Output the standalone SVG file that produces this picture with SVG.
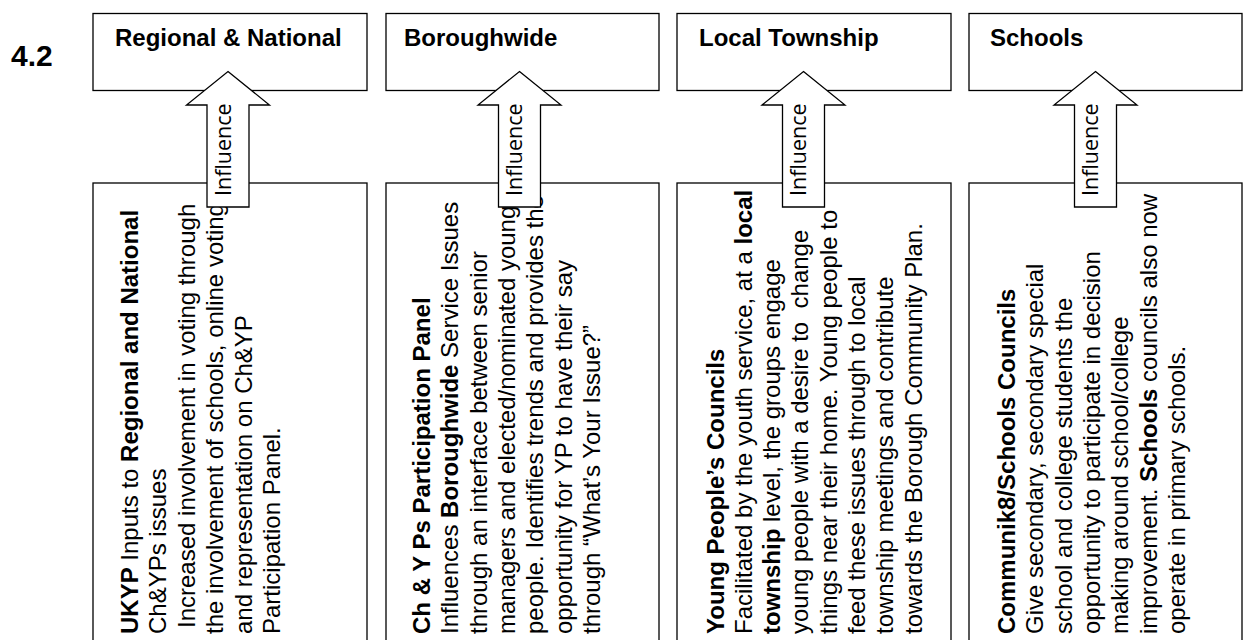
<svg xmlns="http://www.w3.org/2000/svg" width="1245" height="640" viewBox="0 0 1245 640">
<style>
.box{fill:#fff;stroke:#000;stroke-width:1.3}
.arrow{fill:#fff;stroke:#000;stroke-width:1.3;stroke-linejoin:miter}
.title{font-family:"Liberation Sans",Arial,sans-serif;font-size:24px;font-weight:bold;fill:#000}
.t{font-family:"Liberation Sans",Arial,sans-serif;font-size:24px;fill:#000}
.b{font-weight:bold}
.inf{font-family:"Open Sans","DejaVu Sans",sans-serif;font-size:21.5px;fill:#000}
</style>
<rect width="1245" height="640" fill="#fff"/>
<text id="section" class="title" x="11" y="66" style="font-size:30px">4.2</text>

<g id="top-regional"><rect class="box" x="93" y="13.5" width="274" height="77"/><text class="title" x="115" y="46">Regional &amp; National</text></g>
<g id="top-borough"><rect class="box" x="386" y="13.5" width="273" height="77"/><text class="title" x="404" y="46">Boroughwide</text></g>
<g id="top-township"><rect class="box" x="677" y="13.5" width="274" height="77"/><text class="title" x="699" y="46">Local Township</text></g>
<g id="top-schools"><rect class="box" x="969" y="13.5" width="273" height="77"/><text class="title" x="990" y="46">Schools</text></g>

<g id="ukyp"><rect class="box" x="93" y="183" width="274" height="470"/>
<g transform="translate(0 634) rotate(-90)" class="t">
<text x="0" y="137.5"><tspan class="b">UKYP</tspan> Inputs to <tspan class="b">Regional and National</tspan></text>
<text x="0" y="166">Ch&amp;YPs issues</text>
<text x="6" y="194.5">Increased involvement in voting through</text>
<text x="0" y="223">the involvement of schools, online voting</text>
<text x="0" y="251.5">and representation on Ch&amp;YP</text>
<text x="0" y="280">Participation Panel.</text>
</g></g>

<g id="panel"><rect class="box" x="386" y="183" width="273" height="470"/>
<g transform="translate(0 634) rotate(-90)" class="t">
<text x="0" y="430" class="b">Ch &amp; Y Ps Participation Panel</text>
<text x="0" y="458.3">Influences <tspan class="b">Boroughwide</tspan> Service Issues</text>
<text x="0" y="486.6">through an interface between senior</text>
<text x="0" y="514.9">managers and elected/nominated young</text>
<text x="0" y="543.2">people. Identifies trends and provides the</text>
<text x="0" y="571.5">opportunity for YP to have their say</text>
<text x="0" y="599.8">through “What’s Your Issue?”</text>
</g></g>

<g id="councils"><rect class="box" x="677" y="183" width="274" height="470"/>
<g transform="translate(0 634) rotate(-90)" class="t">
<text x="0" y="723.5" class="b">Young People’s Councils</text>
<text x="0" y="751.8">Facilitated by the youth service, at a <tspan class="b">local</tspan></text>
<text x="0" y="780.1"><tspan class="b">township</tspan> level, the groups engage</text>
<text x="0" y="808.4" xml:space="preserve">young people with a desire to  change</text>
<text x="0" y="836.7">things near their home. Young people to</text>
<text x="0" y="865">feed these issues through to local</text>
<text x="0" y="893.3">township meetings and contribute</text>
<text x="0" y="921.6">towards the Borough Community Plan.</text>
</g></g>

<g id="schools"><rect class="box" x="969" y="183" width="273" height="470"/>
<g transform="translate(0 634) rotate(-90)" class="t">
<text x="0" y="1015" class="b">Communik8/Schools Councils</text>
<text x="0" y="1043.3">Give secondary, secondary special</text>
<text x="0" y="1071.6">school and college students the</text>
<text x="0" y="1099.9">opportunity to participate in decision</text>
<text x="0" y="1128.2">making around school/college</text>
<text x="0" y="1156.5">improvement. <tspan class="b">Schools</tspan> councils also now</text>
<text x="0" y="1184.8">operate in primary schools.</text>
</g></g>

<g id="connectors">
<g id="arrow-1"><path class="arrow" d="M228 71.5 L269.5 105 L249 105 L249 207 L207 207 L207 105 L186.5 105 Z"/><text class="inf" transform="translate(230.5 196) rotate(-90)" x="0" y="0">Influence</text></g>
<g id="arrow-2"><path class="arrow" d="M519.5 71.5 L561 105 L540.5 105 L540.5 207 L498.5 207 L498.5 105 L478 105 Z"/><text class="inf" transform="translate(522 196) rotate(-90)" x="0" y="0">Influence</text></g>
<g id="arrow-3"><path class="arrow" d="M803.5 71.5 L845 105 L824.5 105 L824.5 207 L782.5 207 L782.5 105 L762 105 Z"/><text class="inf" transform="translate(806 196) rotate(-90)" x="0" y="0">Influence</text></g>
<g id="arrow-4"><path class="arrow" d="M1095.5 71.5 L1137 105 L1116.5 105 L1116.5 207 L1074.5 207 L1074.5 105 L1054 105 Z"/><text class="inf" transform="translate(1098 196) rotate(-90)" x="0" y="0">Influence</text></g>
</g>
</svg>
